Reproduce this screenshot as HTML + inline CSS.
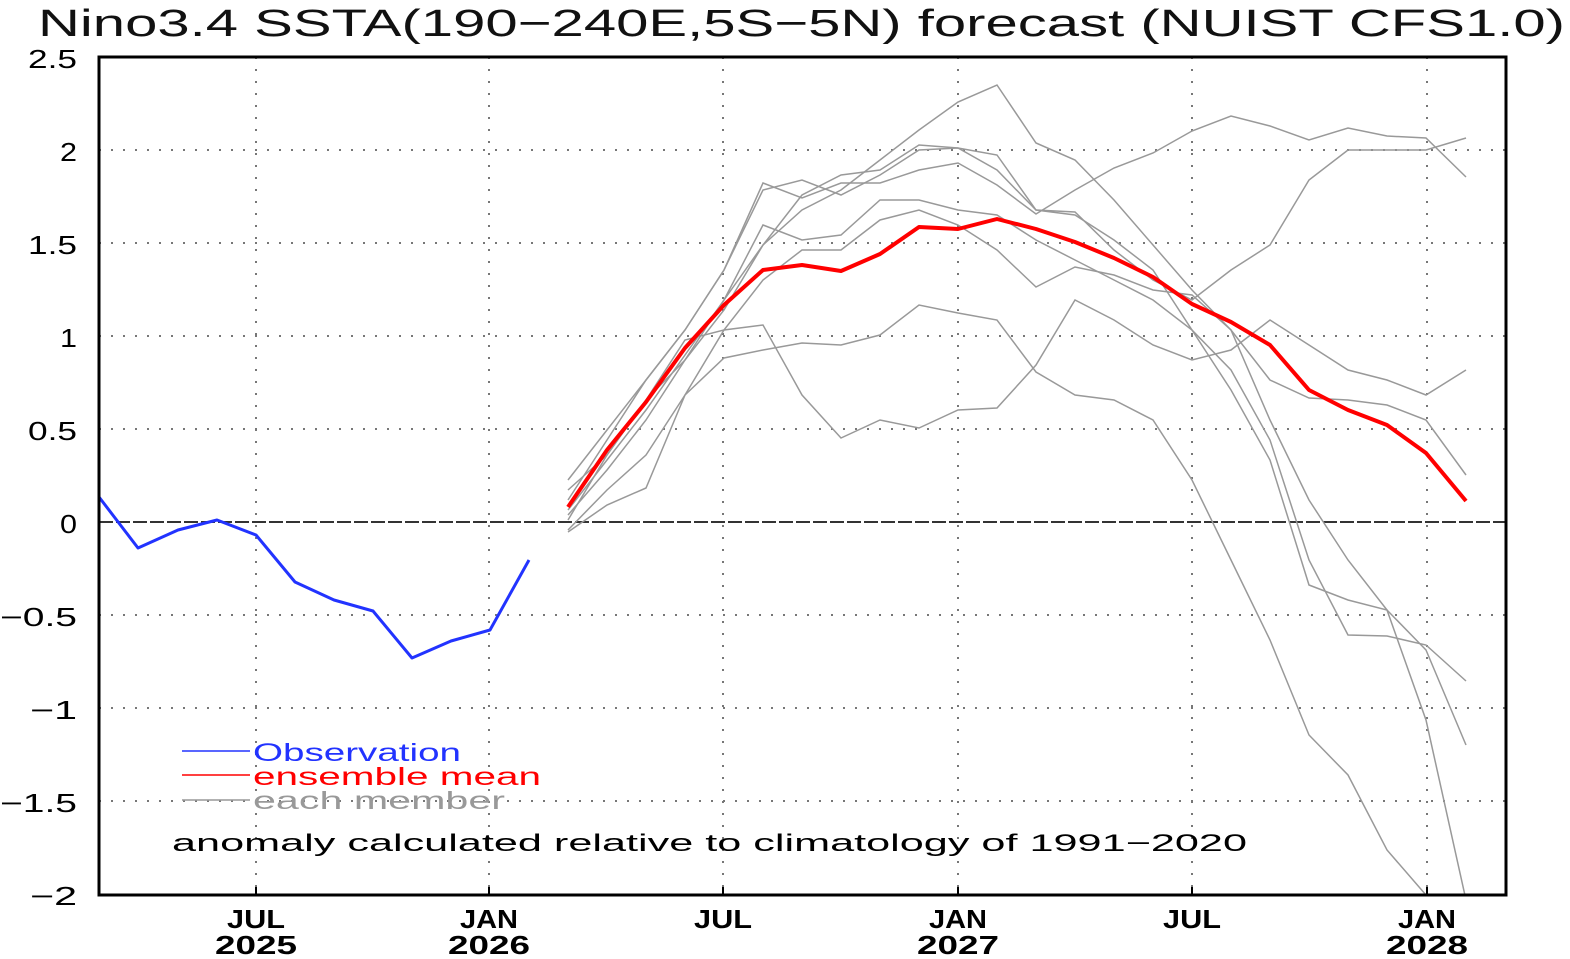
<!DOCTYPE html>
<html><head><meta charset="utf-8"><style>body{margin:0;background:#fff}svg{display:block}text{font-family:"Liberation Sans","DejaVu Sans",sans-serif}</style></head><body>
<svg width="1570" height="959" viewBox="0 0 1570 959" xmlns="http://www.w3.org/2000/svg">
<defs><clipPath id="c"><rect x="99" y="57" width="1407" height="838"/></clipPath></defs>
<text x="38" y="36" font-size="38" fill="#111" textLength="1527" lengthAdjust="spacingAndGlyphs">Nino3.4 SSTA(190−240E,5S−5N) forecast (NUIST CFS1.0)</text>
<g stroke="#777" stroke-width="2" stroke-dasharray="2,10">
<line x1="99" x2="1506" y1="150" y2="150"/><line x1="99" x2="1506" y1="243" y2="243"/><line x1="99" x2="1506" y1="336" y2="336"/><line x1="99" x2="1506" y1="429" y2="429"/><line x1="99" x2="1506" y1="615" y2="615"/><line x1="99" x2="1506" y1="708" y2="708"/><line x1="99" x2="1506" y1="801" y2="801"/>
<line x1="256" x2="256" y1="57" y2="895"/><line x1="489" x2="489" y1="57" y2="895"/><line x1="723" x2="723" y1="57" y2="895"/><line x1="958" x2="958" y1="57" y2="895"/><line x1="1192" x2="1192" y1="57" y2="895"/><line x1="1427" x2="1427" y1="57" y2="895"/>
</g>
<line x1="99" x2="1506" y1="522" y2="522" stroke="#333" stroke-width="2" stroke-dasharray="14,3"/>
<g clip-path="url(#c)" fill="none" stroke="#999" stroke-width="1.5">
<polyline points="568,480 607,430 646,380 685,330 724,270 763,183 802,198 841,183 880,183 919,170 958,163 997,185 1036,214 1075,190 1114,168 1153,153 1192,131 1231,116 1270,126 1309,140 1348,128 1387,136 1426,138 1466,177"/>
<polyline points="568,500 607,440 646,380 685,330 724,270 763,190 802,180 841,195 880,175 919,150 958,148 997,155 1036,210 1075,212 1114,250 1153,280 1192,300 1231,270 1270,245 1309,180 1348,150 1387,150 1426,150 1466,138"/>
<polyline points="568,515 607,470 646,420 685,360 724,300 763,245 802,210 841,190 880,160 919,130 958,102 997,85 1036,143 1075,160 1114,200 1153,245 1192,290 1231,330 1270,420 1309,500 1348,560 1387,610 1426,720 1466,900"/>
<polyline points="568,490 607,455 646,400 685,360 724,310 763,245 802,195 841,175 880,170 919,145 958,148 997,170 1036,210 1075,215 1114,240 1153,270 1192,330 1231,370 1270,440 1309,560 1348,635 1387,636 1426,645 1466,681"/>
<polyline points="568,530 607,490 646,455 685,395 724,330 763,325 802,395 841,438 880,420 919,428 958,410 997,408 1036,365 1075,300 1114,320 1153,345 1192,360 1231,350 1270,320 1309,345 1348,370 1387,380 1426,395 1466,370"/>
<polyline points="568,532 607,505 646,488 685,395 724,358 763,350 802,343 841,345 880,335 919,305 958,313 997,320 1036,372 1075,395 1114,400 1153,420 1192,480 1231,560 1270,640 1309,735 1348,775 1387,850 1426,895 1466,900"/>
<polyline points="568,520 607,455 646,400 685,340 724,330 763,280 802,250 841,250 880,220 919,210 958,225 997,250 1036,287 1075,267 1114,275 1153,290 1192,295 1231,330 1270,380 1309,398 1348,400 1387,405 1426,420 1466,475"/>
<polyline points="568,510 607,460 646,410 685,355 724,300 763,225 802,240 841,235 880,200 919,200 958,210 997,215 1036,240 1075,260 1114,280 1153,300 1192,330 1231,390 1270,460 1309,585 1348,600 1387,610 1426,650 1466,745"/>
</g>
<polyline fill="none" stroke="#f00" stroke-width="4" stroke-linejoin="round" points="568,507 607,450 646,402 685,348 724,305 763,270 802,265 841,271 880,254 919,227 958,229 997,219 1036,229 1075,242 1114,258 1153,277 1192,304 1231,322 1270,345 1309,390 1348,410 1387,425 1426,453 1466,501"/>
<polyline fill="none" stroke="#2233ff" stroke-width="3" stroke-linejoin="round" points="99,497 138,548 178,530 217,520 256,535 295,582 334,600 373,611 412,658 451,641 490,630 529,560"/>
<rect x="99" y="57" width="1407" height="838" fill="none" stroke="#000" stroke-width="3"/>
<g stroke="#000" stroke-width="2"><line x1="256" x2="256" y1="895" y2="887"/><line x1="489" x2="489" y1="895" y2="887"/><line x1="723" x2="723" y1="895" y2="887"/><line x1="958" x2="958" y1="895" y2="887"/><line x1="1192" x2="1192" y1="895" y2="887"/><line x1="1427" x2="1427" y1="895" y2="887"/></g>
<g font-size="26">
<text x="28" y="68" textLength="49" lengthAdjust="spacingAndGlyphs">2.5</text><text x="60" y="161" textLength="17" lengthAdjust="spacingAndGlyphs">2</text><text x="28" y="254" textLength="49" lengthAdjust="spacingAndGlyphs">1.5</text><text x="60" y="347" textLength="17" lengthAdjust="spacingAndGlyphs">1</text><text x="28" y="440" textLength="49" lengthAdjust="spacingAndGlyphs">0.5</text><text x="60" y="533" textLength="17" lengthAdjust="spacingAndGlyphs">0</text><text x="0" y="626" textLength="77" lengthAdjust="spacingAndGlyphs">−0.5</text><text x="30" y="719" textLength="47" lengthAdjust="spacingAndGlyphs">−1</text><text x="0" y="812" textLength="77" lengthAdjust="spacingAndGlyphs">−1.5</text><text x="30" y="905" textLength="47" lengthAdjust="spacingAndGlyphs">−2</text>
</g>
<g font-size="26" font-weight="bold">
<text x="227" y="928" textLength="58" lengthAdjust="spacingAndGlyphs">JUL</text><text x="215" y="954" textLength="82" lengthAdjust="spacingAndGlyphs">2025</text>
<text x="460" y="928" textLength="58" lengthAdjust="spacingAndGlyphs">JAN</text><text x="448" y="954" textLength="82" lengthAdjust="spacingAndGlyphs">2026</text>
<text x="694" y="928" textLength="58" lengthAdjust="spacingAndGlyphs">JUL</text>
<text x="929" y="928" textLength="58" lengthAdjust="spacingAndGlyphs">JAN</text><text x="917" y="954" textLength="82" lengthAdjust="spacingAndGlyphs">2027</text>
<text x="1163" y="928" textLength="58" lengthAdjust="spacingAndGlyphs">JUL</text>
<text x="1398" y="928" textLength="58" lengthAdjust="spacingAndGlyphs">JAN</text><text x="1386" y="954" textLength="82" lengthAdjust="spacingAndGlyphs">2028</text>
</g>
<line x1="182" x2="250" y1="751" y2="751" stroke="#2233ff" stroke-width="1.5"/>
<line x1="182" x2="250" y1="775" y2="775" stroke="#f00" stroke-width="1.5"/>
<line x1="182" x2="250" y1="800" y2="800" stroke="#999" stroke-width="1.5"/>
<text x="253" y="761" font-size="25" fill="#2233ff" textLength="208" lengthAdjust="spacingAndGlyphs">Observation</text>
<text x="253" y="785" font-size="25" fill="#f00" textLength="288" lengthAdjust="spacingAndGlyphs">ensemble mean</text>
<text x="253" y="809" font-size="25" fill="#999" textLength="252" lengthAdjust="spacingAndGlyphs">each member</text>
<text x="172" y="851" font-size="24" textLength="1075" lengthAdjust="spacingAndGlyphs">anomaly calculated relative to climatology of 1991−2020</text>
</svg>
</body></html>
